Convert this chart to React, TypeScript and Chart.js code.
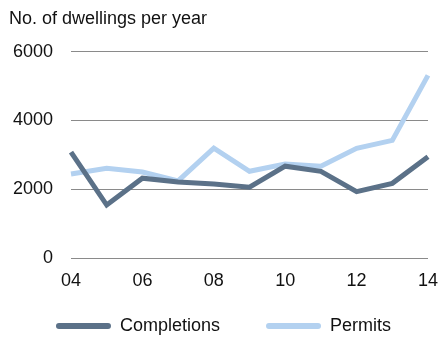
import React, { useEffect, useRef } from "react";
import { Chart, registerables } from "chart.js";

Chart.register(...registerables);

const years = ["04", "05", "06", "07", "08", "09", "10", "11", "12", "13", "14"];
const completions = [3080, 1540, 2320, 2210, 2150, 2060, 2670, 2520, 1930, 2170, 2940];
const permits = [2440, 2610, 2500, 2240, 3190, 2520, 2730, 2670, 3190, 3420, 5310];
const titleText = "No. of dwellings per year";
const seriesNames = ["Completions", "Permits"];
const colors = ["#5b7188", "#b3d1f0"];

export default function App() {
  const ref = useRef<HTMLCanvasElement | null>(null);
  useEffect(() => {
    document.body.style.margin = "0";
    const font = { family: "'Liberation Sans', Arial, sans-serif", size: 18 };
    const widenLabelArea = {
      id: "widenLabelArea",
      afterLayout(c: any) {
        c.scales.x.bottom = c.height;
      },
    };
    const chart = new Chart(ref.current!, {
      type: "line",
      data: {
        labels: years,
        datasets: [
          {
            label: seriesNames[0],
            data: completions,
            borderColor: colors[0],
            backgroundColor: colors[0],
            borderWidth: 5,
            pointRadius: 0,
            tension: 0,
          },
          {
            label: seriesNames[1],
            data: permits,
            borderColor: colors[1],
            backgroundColor: colors[1],
            borderWidth: 5,
            pointRadius: 0,
            tension: 0,
          },
        ],
      },
      plugins: [widenLabelArea],
      options: {
        animation: false,
        responsive: false,
        layout: { padding: { left: 9, right: 0, top: 8, bottom: -7 } },
        plugins: {
          title: {
            display: true,
            text: titleText,
            align: "start",
            color: "#111",
            font: { ...font, weight: "normal" },
            padding: { top: 0, bottom: 22 },
          },
          legend: {
            position: "bottom",
            labels: {
              color: "#111",
              font,
              boxWidth: 55,
              boxHeight: 6,
              padding: 46,
              generateLabels: (c: any) =>
                c.data.datasets.map((d: any, i: number) => ({
                  text: d.label,
                  fillStyle: d.borderColor,
                  strokeStyle: d.borderColor,
                  lineWidth: 0,
                  hidden: false,
                  datasetIndex: i,
                  borderRadius: 3,
                  fontColor: "#111",
                })),
              useBorderRadius: true,
            },
          },
          tooltip: { enabled: false },
        },
        scales: {
          x: {
            offset: false,
            grid: { display: false, drawTicks: false },
            border: { display: false },
            afterFit: (s: any) => {
              s.height = 13;
              s.paddingRight = 10;
              s.paddingLeft = 0;
            },
            ticks: {
              color: "#111",
              font,
              autoSkip: false,
              maxRotation: 0,
              padding: 12,
              callback: (_v: any, i: number) => (i % 2 === 0 ? years[i] : ""),
            },
          },
          y: {
            min: 0,
            max: 6000,
            grid: { color: "#8a8a8a", lineWidth: 1, drawTicks: false },
            border: { display: false },
            afterFit: (s: any) => {
              s.width = 62;
            },
            ticks: {
              color: "#111",
              font,
              stepSize: 2000,
              padding: 18,
              callback: (v: any) => String(v),
            },
          },
        },
      },
    });
    return () => chart.destroy();
  }, []);
  return <canvas ref={ref} width={438} height={338} style={{ display: "block" }} />;
}
